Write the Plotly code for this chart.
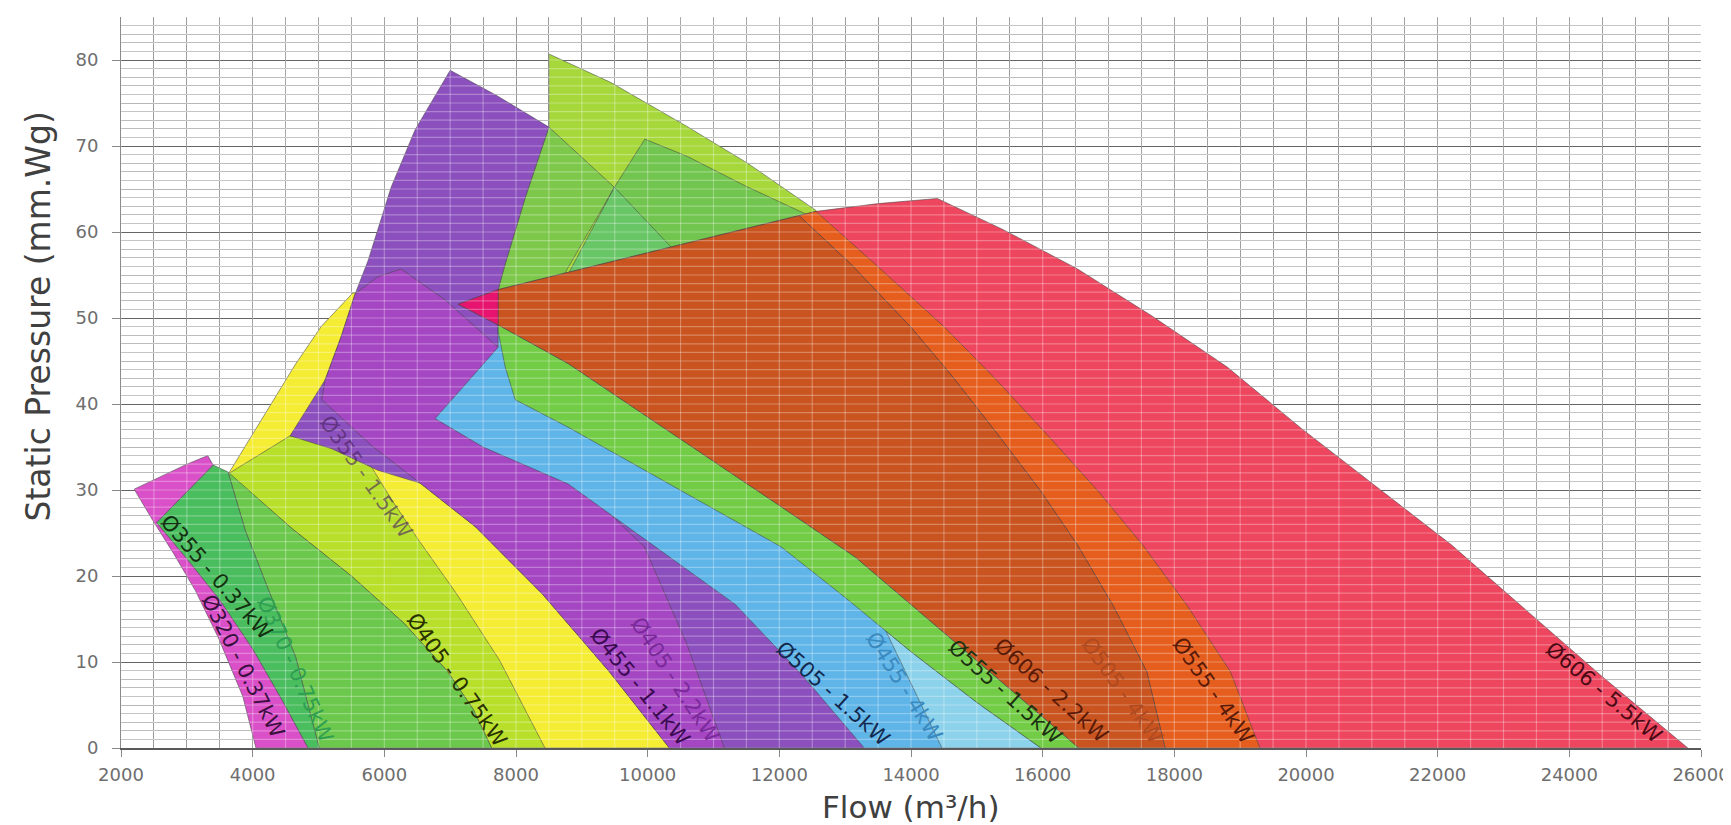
import numpy as np
import plotly.graph_objects as go

# ---------------- data (flow m3/h , static pressure mm.Wg) ----------------
yellow_x = [3632, 3938, 4250, 4640, 5040, 5520, 5700, 10600, 7000]
yellow_y = [31.9, 35.7, 39.6, 44.5, 49.0, 52.9, 53.0, 0, 0]

ygreen_x = [3632, 4568, 5200, 5700, 6100, 6500, 7100, 7750, 8440, 7630, 7350, 6950, 6300, 5500, 4600]
ygreen_y = [31.9, 36.3, 35.2, 34.0, 29.0, 24.4, 17.9, 10.2, 0, 0, 4.5, 9.0, 14.5, 20.0, 25.5]

g370_x = [3625, 4600, 5500, 6300, 6950, 7350, 7630, 5010, 4652, 4244, 3887]
g370_y = [32.1, 25.5, 20.0, 14.5, 9.0, 4.5, 0, 0, 10.6, 18.3, 25.3]

g355_x = [2540, 3400, 3625, 3887, 4244, 4652, 5010, 4840, 4450, 4000, 3500, 3000]
g355_y = [26.2, 32.9, 32.1, 25.3, 18.3, 10.6, 0, 0, 5.5, 11.5, 17.2, 22.0]

m320_x = [2200, 2700, 3000, 3318, 3400, 2540, 3000, 3500, 4000, 4450, 4840, 4050, 3850, 3480, 3130, 2800, 2480]
m320_y = [30.1, 31.9, 33.0, 34.0, 32.9, 26.2, 22.0, 17.2, 11.5, 5.5, 0, 0, 6.0, 12.8, 18.3, 22.6, 26.5]

ygtop_x = [8500, 9436, 10592, 11517, 12558, 12300, 8500, 8500]
ygtop_y = [80.7, 77.4, 72.3, 68.0, 62.5, 58.0, 55.0, 72.2]

g1_x = [8500, 9494, 8750, 8750, 7760, 7729, 7836, 8140]
g1_y = [72.2, 65.2, 55.3, 53.0, 52.0, 53.3, 56.3, 64.0]

g2_x = [9957, 10600, 11500, 12400, 12300, 8750, 9494]
g2_y = [70.8, 68.8, 65.3, 62.1, 58.0, 54.0, 65.2]

mint_x = [9494, 8750, 10450]
mint_y = [65.2, 54.5, 57.5]

bpurple_x = [7000, 7700, 8500, 8140, 7836, 7729, 7729, 9000, 14000, 10330, 9415, 8401, 7388, 6543,
             5900, 5200, 4568, 4842, 5100, 5343, 5556, 5754, 6103, 6468]
bpurple_y = [78.8, 75.9, 72.2, 64.0, 56.3, 53.3, 46.0, 38.0, 0, 0, 8.9, 17.9, 25.7, 30.8,
             32.3, 34.8, 36.3, 39.7, 42.8, 47.8, 52.8, 56.7, 65.2, 71.9]

mpurple_x = [5556, 5900, 6255, 6924, 7729, 8500, 9100, 9950, 10600, 11165, 10330, 9415, 8401, 7388,
             6543, 5800, 5050, 5100, 5343]
mpurple_y = [52.8, 54.8, 55.7, 52.1, 46.6, 38.0, 29.6, 23.4, 12.0, 0, 0, 8.9, 17.9, 25.7,
             30.8, 35.2, 40.5, 42.8, 47.8]

lblue_x = [6772, 7729, 7729, 8793, 10400, 12000, 13155, 14300, 15500, 16550, 13290, 12334, 11331, 10200, 8793, 7500]
lblue_y = [38.3, 46.6, 49.2, 44.7, 36.4, 28.2, 22.2, 14.7, 6.9, 0, 0, 8.6, 16.7, 22.9, 30.7, 35.0]

cyan_x = [13619, 14050, 14470, 15974, 15000, 14000]
cyan_y = [13.6, 6.8, 0, 0, 5.3, 11.2]

gband_x = [7729, 7730, 7836, 7988, 8793, 10400, 12025, 13000, 14000, 15000, 15974, 16550,
           15500, 14300, 13155, 12000, 10400, 8793]
gband_y = [49.2, 48.4, 44.3, 40.5, 37.3, 30.4, 23.4, 17.5, 11.2, 5.3, 0, 0,
           6.9, 14.7, 22.2, 28.2, 36.4, 44.7]

red_x = [7122, 7729, 10000, 12558, 13500, 14400, 15394, 16530, 17667, 18803, 19939, 21076, 22212,
         23348, 24485, 25800, 18000, 12000, 7729]
red_y = [51.6, 53.3, 57.6, 62.4, 63.3, 63.9, 60.3, 55.7, 50.2, 44.3, 37.1, 30.4, 23.6,
         16.0, 8.4, 0, 0, 40.0, 49.2]

borange_x = [12558, 13450, 14500, 15260, 16120, 16850, 17530, 18200, 18850, 19300,
             17860, 17580, 17074, 16537, 15977, 15365, 14640, 13990, 13082, 12300]
borange_y = [62.4, 56.3, 49.0, 43.1, 36.0, 29.8, 23.5, 16.5, 8.9, 0,
             0, 8.9, 16.5, 23.5, 29.8, 36.0, 43.1, 49.0, 56.3, 61.9]

dorange_x = [7729, 10000, 12300, 13082, 13990, 14640, 15365, 15977, 16537, 17074, 17580, 17860,
             16550, 15500, 14300, 13155, 12000, 10400, 8793, 7729]
dorange_y = [53.3, 57.6, 61.9, 56.3, 49.0, 43.1, 36.0, 29.8, 23.5, 16.5, 8.9, 0,
             0, 6.9, 14.7, 22.2, 28.2, 36.4, 44.7, 49.2]

tip_x = [7122, 7729, 7729]
tip_y = [51.6, 53.3, 49.2]

# curve labels
label_text = ["Ø320 - 0.37kW", "Ø355 - 0.37kW", "Ø370 - 0.75kW", "Ø405 - 0.75kW", "Ø355 - 1.5kW",
              "Ø455 - 1.1kW", "Ø405 - 2.2kW", "Ø505 - 1.5kW", "Ø455 - 4kW", "Ø555 - 1.5kW",
              "Ø606 - 2.2kW", "Ø505 - 4kW", "Ø555 - 4kW", "Ø606 - 5.5kW"]
label_x = [3850, 3449, 4645, 7100, 5723, 9887, 10419, 12820, 13900, 15430, 16120, 17200, 18580, 24520]
label_y = [9.5, 19.9, 9.2, 7.9, 31.5, 7.1, 7.9, 6.3, 7.1, 6.5, 6.7, 6.7, 6.7, 6.5]
label_angle = [63, 49, 66, 55, 55, 51, 57, 42, 58, 42, 42, 55, 55, 40]
label_color = ["#3a1040", "#12300f", "#2e9e50", "#283000", "rgba(70,30,90,0.6)", "#3a0a50", "#7a2a9a",
               "#12284e", "#3a8ac0", "#1a3010", "#5a1a08", "#b04a20", "#5a1a08", "#4a0a14"]

x_ticks = list(range(2000, 26001, 2000))
y_ticks = list(range(0, 81, 10))

# ---------------- figure ----------------
regions = [
    (yellow_x, yellow_y, "#f5ec34"),
    (ygreen_x, ygreen_y, "#b8e02a"),
    (g370_x, g370_y, "#6cc84c"),
    (g355_x, g355_y, "#4abd5f"),
    (m320_x, m320_y, "#da50c8"),
    (ygtop_x, ygtop_y, "#a6d83c"),
    (g1_x, g1_y, "#7dc84b"),
    (g2_x, g2_y, "#72c54f"),
    (mint_x, mint_y, "#68c666"),
    (bpurple_x, bpurple_y, "#8c50be"),
    (mpurple_x, mpurple_y, "#a546c3"),
    (lblue_x, lblue_y, "#5fb5e8"),
    (cyan_x, cyan_y, "#8cd2eb"),
    (gband_x, gband_y, "#72cc46"),
    (red_x, red_y, "#ee465f"),
    (borange_x, borange_y, "#e65e1e"),
    (dorange_x, dorange_y, "#c9541f"),
    (tip_x, tip_y, "#e6146e"),
]

fig = go.Figure()
for xs, ys, col in regions:
    fig.add_trace(go.Scatter(x=xs + [xs[0]], y=ys + [ys[0]], mode="lines", fill="toself",
                             fillcolor=col, line=dict(color="rgba(70,70,70,0.55)", width=1),
                             hoverinfo="skip", showlegend=False))

# light grid visible over the coloured areas
gx = np.arange(2000, 26001, 500)
gy = np.arange(0, 86, 1)
vx, vy = [], []
for v in gx:
    vx += [v, v, None]
    vy += [0, 85, None]
hx, hy = [], []
for v in gy:
    hx += [2000, 26000, None]
    hy += [v, v, None]
fig.add_trace(go.Scatter(x=vx, y=vy, mode="lines", line=dict(color="rgba(255,255,255,0.3)", width=1.2),
                         hoverinfo="skip", showlegend=False))
fig.add_trace(go.Scatter(x=hx, y=hy, mode="lines", line=dict(color="rgba(255,255,255,0.3)", width=1.2),
                         hoverinfo="skip", showlegend=False))

for t, x, y, a, c in zip(label_text, label_x, label_y, label_angle, label_color):
    fig.add_annotation(x=x, y=y, xref="x", yref="y", text=t, showarrow=False, textangle=a,
                       font=dict(family="DejaVu Sans", size=21, color=c),
                       xanchor="center", yanchor="middle")

fig.add_annotation(x=0.5, y=-0.108, xref="paper", yref="paper", text="Flow (m³/h)", showarrow=False,
                   font=dict(family="DejaVu Sans", size=31, color="#404040"), xanchor="center", yanchor="bottom")
fig.add_annotation(x=-0.052, y=0.59, xref="paper", yref="paper", text="Static Pressure (mm.Wg)",
                   showarrow=False, textangle=-90,
                   font=dict(family="DejaVu Sans", size=33, color="#404040"), xanchor="center", yanchor="middle")

fig.update_layout(
    width=1731, height=825,
    margin=dict(l=113, r=38, t=9, b=85),
    plot_bgcolor="white", paper_bgcolor="white",
    showlegend=False,
    xaxis=dict(range=[2000, 26000], tickvals=x_ticks, tickformat="d", ticks="outside", ticklen=7,
               tickcolor="#888888",
               tickfont=dict(family="DejaVu Sans", size=18, color="#6e6e6e"), ticklabelstandoff=3,
               showgrid=True, gridcolor="#808080", gridwidth=1,
               minor=dict(dtick=500, tick0=2000, showgrid=True, gridcolor="#808080", gridwidth=1),
               showline=True, linecolor="#5a5a5a", linewidth=1.5, zeroline=False),
    yaxis=dict(range=[0, 85], tickvals=y_ticks, ticks="outside", ticklen=8, tickcolor="#888888",
               tickfont=dict(family="DejaVu Sans", size=18, color="#6e6e6e"), ticklabelstandoff=10,
               showgrid=True, gridcolor="#4a4a4a", gridwidth=1,
               minor=dict(dtick=1, tick0=0, showgrid=True, gridcolor="#ababab", gridwidth=1),
               showline=True, linecolor="#8a8a8a", linewidth=1, zeroline=False),
)

fig.write_html("out.html")
